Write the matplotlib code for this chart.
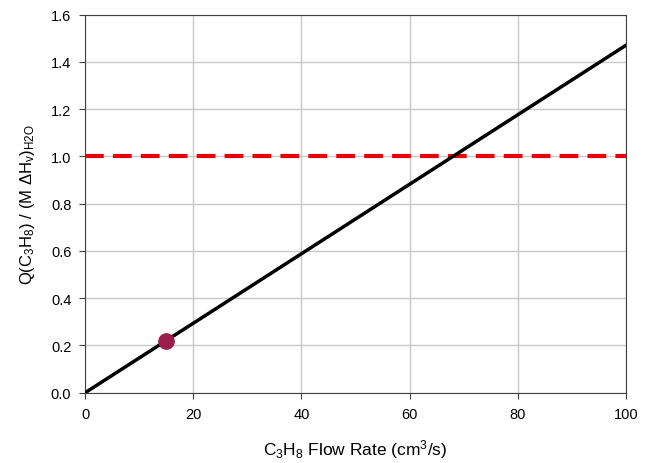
import numpy as np
import matplotlib.pyplot as plt

plt.rcParams['font.family'] = 'Liberation Sans'
plt.rcParams['mathtext.fontset'] = 'custom'
plt.rcParams['mathtext.rm'] = 'Liberation Sans'
plt.rcParams['mathtext.it'] = 'Liberation Sans'

# ratio of propane heat output to water evaporation heat
flow = [0, 100]
ratio = [0, 1.47]
op_flow = [15]
op_ratio = [0.22]
limit = 1.0

fig = plt.figure(figsize=(6.5, 4.64), dpi=100)
ax = fig.add_axes([0.131, 0.1515, 0.832, 0.815])

ax.axhline(limit, color='#e8000b', lw=3, dashes=(4.5, 2.2), zorder=3)
ax.plot(flow, ratio, color='black', lw=2.5, zorder=4)
ax.plot(op_flow, op_ratio, 'o', color='#9b1f4c', ms=11, zorder=5)

ax.set_xlim(0, 100)
ax.set_ylim(0, 1.6)
ax.set_xticks(np.arange(0, 101, 20))
ax.set_yticks(np.arange(0, 1.61, 0.2))
ax.set_yticklabels(['%.1f' % v for v in np.arange(0, 1.61, 0.2)])
ax.grid(True, color='#c8c8c8', lw=1)
ax.set_axisbelow(True)
for s in ax.spines.values():
    s.set_color('#404040')
ax.tick_params(direction='out', length=4, color='#404040', labelsize=10.5, pad=6)

ax.set_xlabel('C$_3$H$_8$ Flow Rate (cm$^3$/s)', fontsize=12.5, labelpad=12)
ax.set_ylabel(r'Q(C$_3$H$_8$) / (M $\Delta$H$_v$)$_{H2O}$', fontsize=12, labelpad=10)

fig.savefig('out.png', dpi=100)
